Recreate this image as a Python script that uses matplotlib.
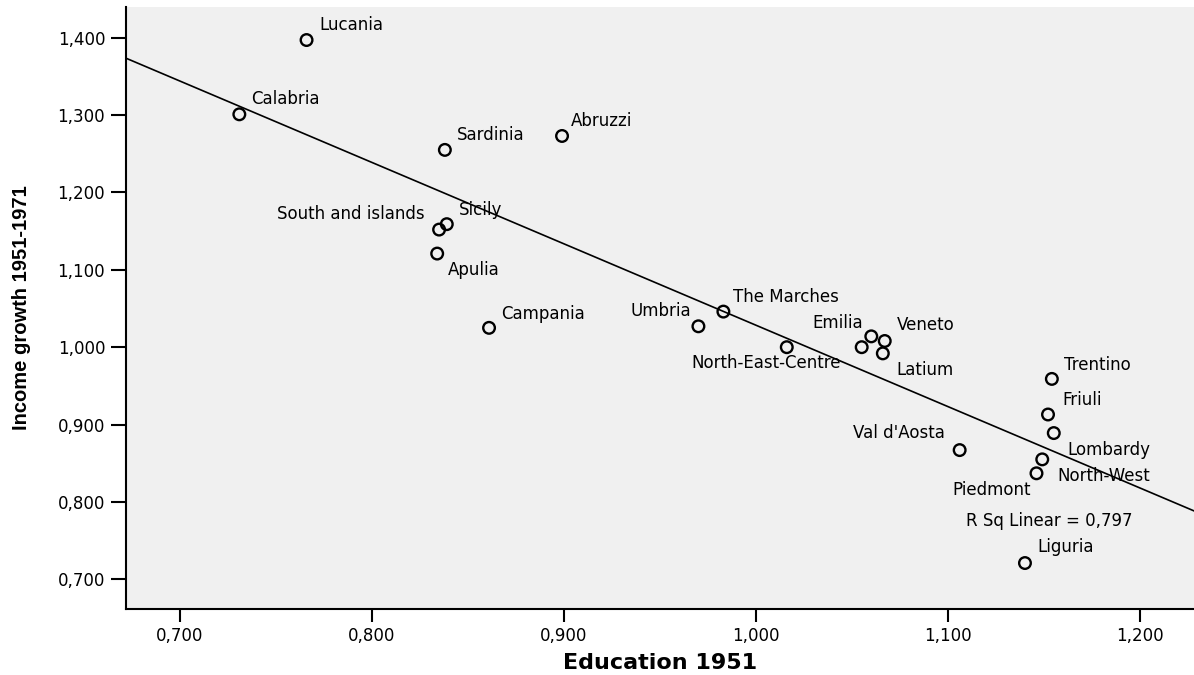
import matplotlib
matplotlib.use("Agg")
import matplotlib.pyplot as plt
import numpy as np
from matplotlib.ticker import FuncFormatter, MultipleLocator

regions = ["Lucania", "Calabria", "Sardinia", "Abruzzi", "Sicily", "South and islands",
           "Apulia", "Campania", "Umbria", "The Marches", "North-East-Centre", "Emilia",
           "Veneto", "Tuscany", "Latium", "Trentino", "Friuli", "Lombardy", "Val d'Aosta",
           "North-West", "Piedmont", "Liguria"]
education_1951 = [0.766, 0.731, 0.838, 0.899, 0.839, 0.835, 0.834, 0.861, 0.970, 0.983,
                  1.016, 1.060, 1.067, 1.055, 1.066, 1.154, 1.152, 1.155, 1.106, 1.149,
                  1.146, 1.140]
income_growth = [1.397, 1.301, 1.255, 1.273, 1.159, 1.152, 1.121, 1.025, 1.027, 1.046,
                 1.000, 1.014, 1.008, 1.000, 0.992, 0.959, 0.913, 0.889, 0.867, 0.855,
                 0.837, 0.721]
# label offsets in pixels (dx, dy, ha); None = label hidden
label_pos = {
    "Lucania": (13, 15, "left"), "Calabria": (12, 15, "left"), "Sardinia": (12, 15, "left"),
    "Abruzzi": (9, 15, "left"), "Sicily": (12, 14, "left"),
    "South and islands": (-14, 16, "right"), "Apulia": (11, -16, "left"),
    "Campania": (12, 14, "left"), "Umbria": (-7, 15, "right"), "The Marches": (10, 15, "left"),
    "North-East-Centre": (-21, -16, "center"), "Emilia": (-8, 13, "right"),
    "Veneto": (12, 16, "left"), "Tuscany": None, "Latium": (14, -17, "left"),
    "Trentino": (12, 14, "left"), "Friuli": (14, 14, "left"), "Lombardy": (14, -17, "left"),
    "Val d'Aosta": (-15, 17, "right"), "North-West": (15, -17, "left"),
    "Piedmont": (-6, -17, "right"), "Liguria": (12, 16, "left"),
}
r_squared = 0.797

x = np.array(education_1951)
y = np.array(income_growth)

fig = plt.figure(figsize=(11.94, 6.75), dpi=100)
ax = fig.add_axes([126 / 1194, 1 - 609 / 675, 1 - 126 / 1194, (609 - 7) / 675])
ax.set_facecolor("#f0f0f0")

ax.scatter(x, y, s=70, facecolors="none", edgecolors="black", linewidths=1.7, zorder=3)

# least squares fit line
slope, intercept = np.polyfit(x, y, 1)
xs = np.array([0.672, 1.228])
ax.plot(xs, slope * xs + intercept, color="black", lw=1.2, zorder=2)

for name, xi, yi in zip(regions, x, y):
    pos = label_pos[name]
    if pos is None:
        continue
    dx, dy, ha = pos
    ax.annotate(name, (xi, yi), xytext=(dx, dy), textcoords="offset pixels",
                ha=ha, va="center", fontsize=12, family="DejaVu Sans")

ax.text(0.7865, 0.146, f"R Sq Linear = {r_squared:.3f}".replace(".", ","),
        transform=ax.transAxes, ha="left", va="center", fontsize=12)

ax.set_xlim(0.672, 1.228)
ax.set_ylim(0.6616, 1.4397)
ax.xaxis.set_major_locator(MultipleLocator(0.1))
ax.yaxis.set_major_locator(MultipleLocator(0.1))
fmt = FuncFormatter(lambda v, p: f"{v:.3f}".replace(".", ","))
ax.xaxis.set_major_formatter(fmt)
ax.yaxis.set_major_formatter(fmt)
ax.tick_params(axis="y", length=11, width=1.5, pad=4, labelsize=12)
ax.tick_params(axis="x", length=9, width=1.5, pad=4, labelsize=12)

for side in ("top", "right"):
    ax.spines[side].set_visible(False)
for side in ("left", "bottom"):
    ax.spines[side].set_linewidth(1.5)

ax.set_xlabel("Education 1951", fontsize=16, fontweight="bold", labelpad=6)
ax.set_ylabel("Income growth 1951-1971", fontsize=14.5, fontweight="bold",
              family=["Liberation Sans", "DejaVu Sans"], labelpad=19)

fig.savefig("out.png", dpi=100)
